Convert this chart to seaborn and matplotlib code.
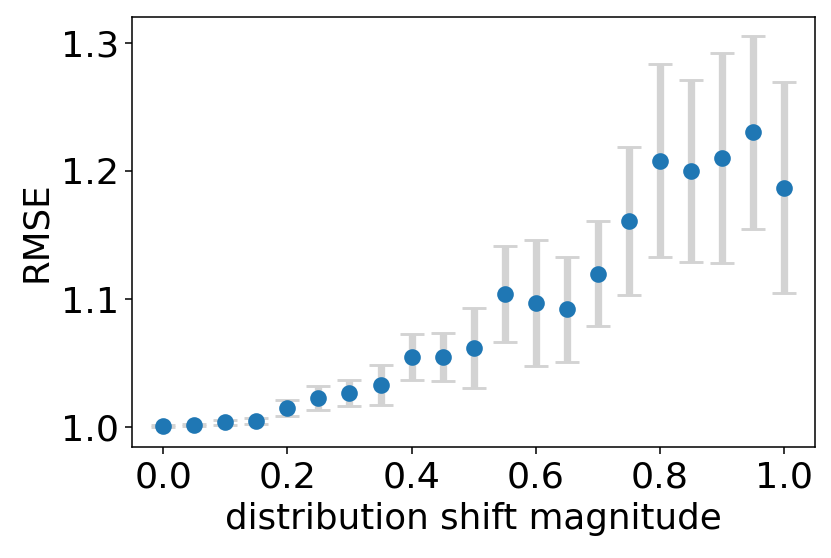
import numpy as np
import pandas as pd
import matplotlib
matplotlib.use("Agg")
import matplotlib.pyplot as plt
import seaborn as sns

# data
shift = [0.0, 0.05, 0.1, 0.15, 0.2, 0.25, 0.3, 0.35, 0.4, 0.45, 0.5,
         0.55, 0.6, 0.65, 0.7, 0.75, 0.8, 0.85, 0.9, 0.95, 1.0]
rmse_mean = [1.001, 1.002, 1.004, 1.005, 1.015, 1.023, 1.027, 1.033, 1.055, 1.055, 1.062,
             1.104, 1.097, 1.092, 1.120, 1.161, 1.208, 1.200, 1.210, 1.230, 1.187]
rmse_std = [0.001, 0.001, 0.002, 0.002, 0.006, 0.0095, 0.010, 0.0155, 0.018, 0.019, 0.031,
            0.0375, 0.049, 0.041, 0.041, 0.058, 0.075, 0.071, 0.082, 0.075, 0.082]

df = pd.DataFrame({"shift": shift, "rmse": rmse_mean, "std": rmse_std})

fig = plt.figure(figsize=(6, 4.029), dpi=138.5)
ax = fig.add_axes([0.159, 0.199, 0.822, 0.771])

ax.errorbar(df["shift"], df["rmse"], yerr=df["std"], fmt="none",
            ecolor="lightgray", elinewidth=3.8, capsize=6, capthick=1.5, zorder=1)
sns.scatterplot(data=df, x="shift", y="rmse", ax=ax, color="#1f77b4",
                s=75, linewidth=0, zorder=2)

ax.set_xlabel("distribution shift magnitude", fontsize=18.5)
ax.set_ylabel("RMSE", fontsize=18.5)
ax.set_yticks([1.0, 1.1, 1.2, 1.3])
ax.set_xticks([0.0, 0.2, 0.4, 0.6, 0.8, 1.0])
ax.tick_params(labelsize=19)

fig.savefig("out.png", dpi=138.5, facecolor="white")
